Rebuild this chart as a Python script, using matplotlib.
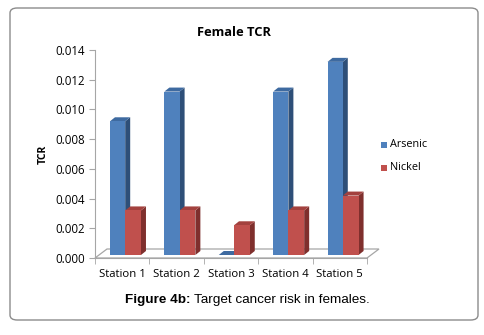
import matplotlib
matplotlib.use("Agg")
import matplotlib.pyplot as plt
from matplotlib.patches import Polygon, FancyBboxPatch, Rectangle

stations = ["Station 1", "Station 2", "Station 3", "Station 4", "Station 5"]
arsenic = [0.009, 0.011, 0.0, 0.011, 0.013]
nickel = [0.003, 0.003, 0.002, 0.003, 0.004]
yticks = [0.000, 0.002, 0.004, 0.006, 0.008, 0.010, 0.012, 0.014]

W, H = 485, 335
fig = plt.figure(figsize=(W / 100, H / 100), dpi=100)

# rounded outer frame
fig.patches.append(FancyBboxPatch((10 / W, 15 / H), 468 / W, 312 / H,
                                  boxstyle="round,pad=0,rounding_size=0.015",
                                  transform=fig.transFigure, fc="white",
                                  ec="#8c8c8c", lw=1.0, zorder=-5))

ax = fig.add_axes([95 / W, 77 / H, 272 / W, 208 / H])
ax.set_xlim(-0.5, 4.5)
ax.set_ylim(0, 0.014)
ax.patch.set_alpha(0)

px_x = 5 / 272      # data units per pixel
px_y = 0.014 / 208

# floor
fx, fy = 12 * px_x, 9 * px_y
ax.add_patch(Polygon([(-0.5, 0), (4.5, 0), (4.5 + fx, fy), (-0.5 + fx, fy)],
                     closed=True, fc="white", ec="#a6a6a6", lw=0.9, clip_on=False, zorder=1))

dx, dy = 5 * px_x, 4 * px_y
lift = 3 * px_y


def bar3d(x0, w, h, front, side, top):
    b, t = lift, lift + h
    ax.add_patch(Polygon([(x0 + w, b), (x0 + w + dx, b + dy), (x0 + w + dx, t + dy), (x0 + w, t)],
                         closed=True, fc=side, ec="none", clip_on=False, zorder=3))
    ax.add_patch(Polygon([(x0, t), (x0 + w, t), (x0 + w + dx, t + dy), (x0 + dx, t + dy)],
                         closed=True, fc=top, ec="none", clip_on=False, zorder=3))
    if h > 0:
        ax.add_patch(Rectangle((x0, b), w, h, fc=front, ec="none", clip_on=False, zorder=4))


for i in range(len(stations)):
    bar3d(i - 0.225, 0.28, arsenic[i], "#4f81bd", "#2e4f78", "#3e6aa0")
    bar3d(i + 0.055, 0.29, nickel[i], "#c0504d", "#7f2f2d", "#a3413e")

for s in ["top", "right"]:
    ax.spines[s].set_visible(False)
ax.spines["left"].set_color("#a6a6a6")
ax.spines["bottom"].set_color("#a6a6a6")

ax.set_yticks(yticks)
ax.set_yticklabels([f"{v:.3f}" for v in yticks], fontsize=8.3, family="Open Sans")
ax.tick_params(axis="y", length=4, color="#a6a6a6", pad=3)
ax.set_xticks(range(len(stations)))
ax.set_xticklabels(stations, fontsize=8.2, family="Open Sans")
ax.set_xticks([i - 0.5 for i in range(len(stations) + 1)], minor=True)
ax.tick_params(axis="x", which="major", length=0, pad=8)
ax.tick_params(axis="x", which="minor", length=4, color="#a6a6a6")

ax.set_ylabel("TCR", fontsize=7.5, fontweight="bold", family="Open Sans", labelpad=5)
fig.text(234 / W, 1 - 33 / H, "Female TCR", ha="center", va="center",
         fontsize=9.3, fontweight="bold", family="Open Sans")

# legend
for k, (lab, c) in enumerate([("Arsenic", "#4f81bd"), ("Nickel", "#c0504d")]):
    yy = 1 - (145 + 23 * k) / H
    fig.patches.append(Rectangle((381 / W, yy - 3 / H), 6 / W, 6 / H,
                                 transform=fig.transFigure, fc=c, ec="none"))
    fig.text(390 / W, yy, lab, va="center", fontsize=7.8, family="Open Sans")

# caption
fig.text(125 / W, 1 - 300 / H, "Figure 4b:", fontsize=9.7, fontweight="bold",
         family="Liberation Sans", va="center")
fig.text(194 / W, 1 - 300 / H, "Target cancer risk in females.", fontsize=9.7,
         family="Liberation Sans", va="center")

fig.savefig("out.png", dpi=100)
